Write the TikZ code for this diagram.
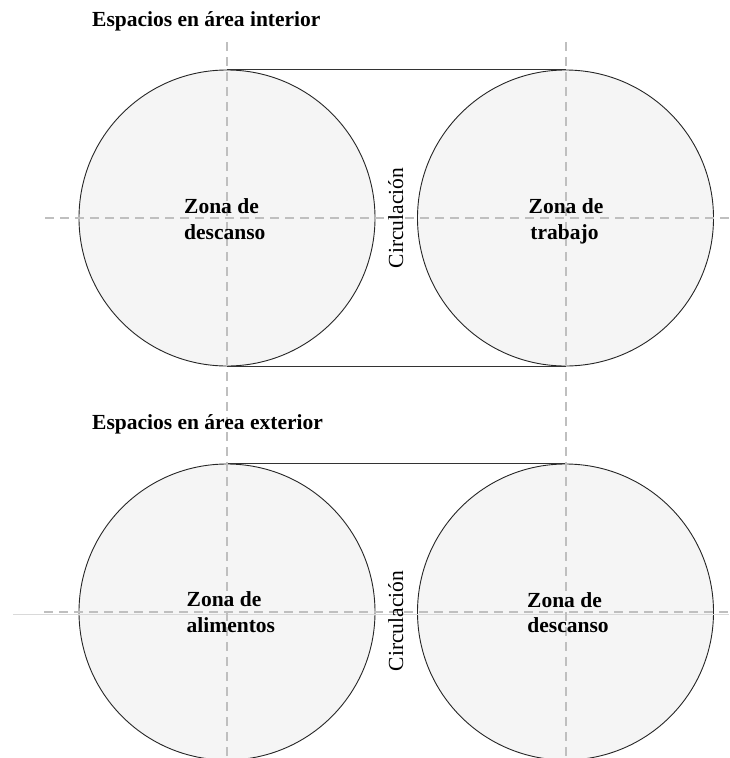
\documentclass[tikz,border=0pt]{standalone}
\usepackage{fontspec}
\setmainfont{Liberation Serif}
\begin{document}
\begin{tikzpicture}[x=1pt,y=-1pt,
  zone/.style={circle,draw=black!85,line width=0.9pt,fill=black!4,minimum size=296pt,inner sep=0pt},
  axis/.style={draw=black!25,line width=1.1pt,dash pattern=on 9pt off 6pt},
  tangent/.style={draw=black!80,line width=0.9pt},
  txt/.style={font=\fontsize{21.5}{25}\selectfont,inner sep=0pt},
  btxt/.style={font=\fontsize{21.5}{25}\selectfont\bfseries,inner sep=0pt}]
\useasboundingbox (0,0) rectangle (729,758);
% circles
\node[zone] (ci1) at (227,218) {};
\node[zone] (ci2) at (565.5,218) {};
\node[zone] (ce1) at (227,612) {};
\node[zone] (ce2) at (565.5,612) {};
% tangent lines
\draw[tangent] (ci1.north) -- (ci2.north);
\draw[tangent] (ci1.south) -- (ci2.south);
\draw[tangent] (ce1.north) -- (ce2.north);
% axes
\coordinate (h1a) at (45,218); \coordinate (h1b) at (729,218);
\coordinate (h2a) at (44,612); \coordinate (h2b) at (729,612);
\coordinate (s2a) at (13,614); \coordinate (s2b) at (729,614);
\coordinate (v1a) at (227,42); \coordinate (v1b) at (227,758);
\coordinate (v2a) at (566,42); \coordinate (v2b) at (566,758);
\draw[axis] (h1a) -- (h1b);
\draw[axis] (h2a) -- (h2b);
\draw[draw=black!15,line width=0.8pt] (s2a) -- (s2b);
\draw[axis] (v1a) -- (v1b);
\draw[axis] (v2a) -- (v2b);
% titles
\node[btxt,anchor=base west] (t1) at (92,26) {Espacios en área interior};
\node[btxt,anchor=base west] (t2) at (92,429) {Espacios en área exterior};
% zone labels
\node[btxt,anchor=base west] (a1) at (184,213) {Zona de};
\node[btxt,anchor=base west] (a2) at (184,239) {descanso};
\node[btxt,anchor=base] (b1) at (566,213) {Zona de};
\node[btxt,anchor=base] (b2) at (564.5,239) {trabajo};
\node[btxt,anchor=base west] (c1) at (186.5,606) {Zona de};
\node[btxt,anchor=base west] (c2) at (186.5,632) {alimentos};
\node[btxt,anchor=base] (d1) at (564.5,607) {Zona de};
\node[btxt,anchor=base] (d2) at (568,632) {descanso};
% circulation
\node[txt,rotate=90,anchor=base] (k1) at (403,218) {Circulación};
\node[txt,rotate=90,anchor=base] (k2) at (403,621) {Circulación};
\end{tikzpicture}
\end{document}
